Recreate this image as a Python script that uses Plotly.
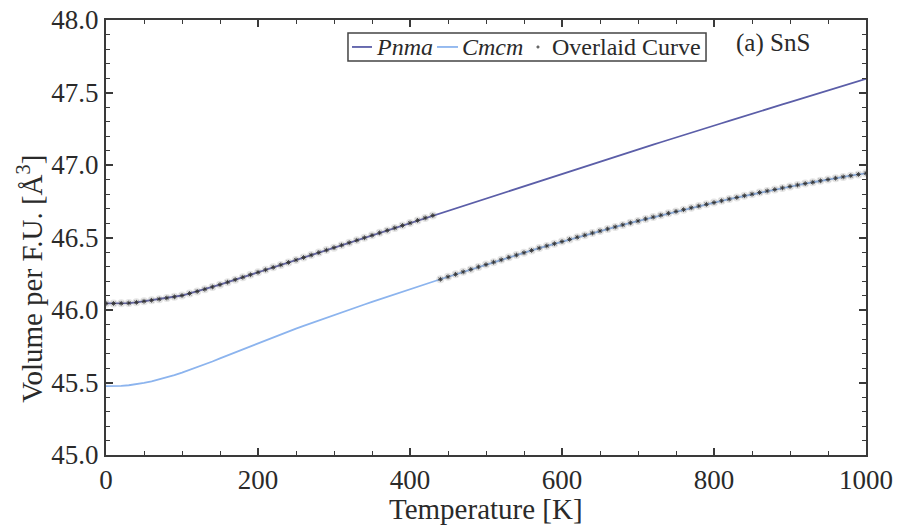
import plotly.graph_objects as go

# Temperature grid [K]
temperature = list(range(0, 1001, 10))

# Pnma volume per F.U. [Å^3]
pnma_volume = [
    46.045, 46.045, 46.046, 46.048, 46.053, 46.060, 46.067, 46.075, 46.083, 46.091,
    46.100, 46.114, 46.128, 46.143, 46.159, 46.175, 46.192, 46.209, 46.226, 46.243,
    46.260, 46.277, 46.294, 46.311, 46.328, 46.345, 46.362, 46.379, 46.396, 46.413,
    46.430, 46.447, 46.464, 46.481, 46.498, 46.515, 46.532, 46.549, 46.566, 46.583,
    46.600, 46.618, 46.635, 46.652, 46.669, 46.686, 46.703, 46.720, 46.737, 46.754,
    46.771, 46.788, 46.805, 46.822, 46.839, 46.856, 46.873, 46.890, 46.907, 46.924,
    46.941, 46.958, 46.975, 46.991, 47.008, 47.025, 47.041, 47.058, 47.075, 47.091,
    47.108, 47.124, 47.141, 47.157, 47.174, 47.190, 47.206, 47.223, 47.239, 47.256,
    47.272, 47.288, 47.304, 47.321, 47.337, 47.353, 47.369, 47.385, 47.402, 47.418,
    47.434, 47.450, 47.466, 47.482, 47.498, 47.514, 47.530, 47.546, 47.562, 47.578,
    47.594,
]

# Cmcm volume per F.U. [Å^3]
cmcm_volume = [
    45.475, 45.475, 45.477, 45.481, 45.488, 45.497, 45.508, 45.521, 45.535, 45.551,
    45.568, 45.586, 45.605, 45.625, 45.645, 45.666, 45.687, 45.708, 45.729, 45.750,
    45.771, 45.792, 45.813, 45.833, 45.853, 45.872, 45.891, 45.910, 45.929, 45.948,
    45.966, 45.984, 46.002, 46.020, 46.038, 46.056, 46.074, 46.092, 46.110, 46.127,
    46.144, 46.161, 46.178, 46.195, 46.212, 46.229, 46.246, 46.263, 46.280, 46.297,
    46.313, 46.330, 46.346, 46.363, 46.379, 46.395, 46.411, 46.427, 46.442, 46.457,
    46.472, 46.487, 46.502, 46.516, 46.531, 46.545, 46.559, 46.573, 46.587, 46.601,
    46.614, 46.628, 46.641, 46.654, 46.667, 46.680, 46.692, 46.705, 46.717, 46.729,
    46.741, 46.753, 46.765, 46.776, 46.788, 46.799, 46.810, 46.821, 46.831, 46.842,
    46.852, 46.862, 46.872, 46.881, 46.891, 46.900, 46.909, 46.918, 46.926, 46.935,
    46.943,
]

# Transition temperature where the overlaid curve switches phase [K]
transition_T = 435

# Legend labels
legend_labels = ["<i>Pnma</i>", "<i>Cmcm</i>", "Overlaid Curve"]
PNMA_COLOR = "#5b5ea8"
CMCM_COLOR = "#8cb4ee"

overlay_T = []
overlay_V = []
for t, vp, vc in zip(temperature, pnma_volume, cmcm_volume):
    overlay_T.append(t)
    overlay_V.append(vp if t < transition_T else vc)

FONT = "Liberation Serif"
AXIS_COLOR = "#3a3a3a"
TEXT_COLOR = "#2a2a2a"

fig = go.Figure()
fig.add_trace(go.Scatter(x=temperature, y=pnma_volume, mode="lines", name=legend_labels[0],
                         showlegend=False, line=dict(color=PNMA_COLOR, width=1.8)))
fig.add_trace(go.Scatter(x=temperature, y=cmcm_volume, mode="lines", name=legend_labels[1],
                         showlegend=False, line=dict(color=CMCM_COLOR, width=1.8)))
# grey halo behind overlay markers
fig.add_trace(go.Scatter(x=overlay_T, y=overlay_V, mode="markers", showlegend=False,
                         hoverinfo="skip",
                         marker=dict(symbol="circle", size=8, color="rgba(130,130,130,0.22)",
                                     line=dict(width=0))))
fig.add_trace(go.Scatter(x=overlay_T, y=overlay_V, mode="markers", name=legend_labels[2],
                         showlegend=False,
                         marker=dict(symbol="asterisk-open", size=4, color="#333333",
                                     line=dict(width=0.9, color="#333333"))))

# ---- hand-drawn legend box (paper coordinates) ----
LEG_Y = 0.938
shapes = [
    dict(type="rect", xref="paper", yref="paper", x0=0.3184, x1=0.7895, y0=0.906, y1=0.970,
         line=dict(color="#444444", width=1.5), fillcolor="white", layer="above"),
    dict(type="line", xref="paper", yref="paper", x0=0.3237, x1=0.350, y0=LEG_Y, y1=LEG_Y,
         line=dict(color=PNMA_COLOR, width=1.8), layer="above"),
    dict(type="line", xref="paper", yref="paper", x0=0.4355, x1=0.4632, y0=LEG_Y, y1=LEG_Y,
         line=dict(color=CMCM_COLOR, width=1.8), layer="above"),
    dict(type="circle", xref="paper", yref="paper", xsizemode="pixel", ysizemode="pixel",
         xanchor=0.5684, yanchor=LEG_Y, x0=-1.3, x1=1.3, y0=-1.3, y1=1.3,
         line=dict(color="#666666", width=0.5), fillcolor="#666666", layer="above"),
]
leg_text_x = [0.3526, 0.4658, 0.5842]
annotations = [
    dict(text=lab, x=lx, y=LEG_Y, xref="paper", yref="paper", xanchor="left", yanchor="middle",
         showarrow=False, font=dict(family=FONT, size=24, color=TEXT_COLOR))
    for lab, lx in zip(legend_labels, leg_text_x)
]
annotations.append(dict(text="(a) SnS", x=0.826, y=0.985, xref="paper", yref="paper",
                        xanchor="left", yanchor="top", showarrow=False,
                        font=dict(family=FONT, size=25, color=TEXT_COLOR)))
# y-axis title
annotations.append(dict(text="Volume per F.U. [Å<sup>3</sup>]", x=-0.1, y=0.405,
                        xref="paper", yref="paper", xanchor="center", yanchor="middle",
                        textangle=-90, showarrow=False,
                        font=dict(family=FONT, size=29, color=TEXT_COLOR)))
# x-axis title
annotations.append(dict(text="Temperature [K]", x=0.5, y=-0.166,
                        xref="paper", yref="paper", xanchor="center", yanchor="bottom",
                        showarrow=False,
                        font=dict(family=FONT, size=29, color=TEXT_COLOR)))

fig.update_layout(
    width=900, height=526,
    margin=dict(l=106, r=34, t=20, b=71),
    paper_bgcolor="white", plot_bgcolor="white",
    font=dict(family=FONT, size=22, color=TEXT_COLOR),
    showlegend=False,
    shapes=shapes,
    annotations=annotations,
)

fig.update_xaxes(
    range=[0, 1000], tickmode="linear", tick0=0, dtick=200, automargin=False,
    ticks="inside", ticklen=7, tickwidth=1.5, tickcolor=AXIS_COLOR,
    minor=dict(dtick=50, ticks="inside", ticklen=4, tickwidth=1.2, tickcolor=AXIS_COLOR),
    showline=True, linecolor=AXIS_COLOR, linewidth=2, mirror="ticks",
    showgrid=False, zeroline=False,
    tickfont=dict(family=FONT, size=27, color=TEXT_COLOR),
)
fig.update_yaxes(
    range=[45.0, 48.0], tickmode="linear", tick0=45.0, dtick=0.5, tickformat=".1f", automargin=False,
    ticks="inside", ticklen=7, tickwidth=1.5, tickcolor=AXIS_COLOR,
    minor=dict(dtick=0.1, ticks="inside", ticklen=4, tickwidth=1.2, tickcolor=AXIS_COLOR),
    showline=True, linecolor=AXIS_COLOR, linewidth=2, mirror="ticks",
    showgrid=False, zeroline=False,
    tickfont=dict(family=FONT, size=27, color=TEXT_COLOR),
)

fig.write_html("out.html")
